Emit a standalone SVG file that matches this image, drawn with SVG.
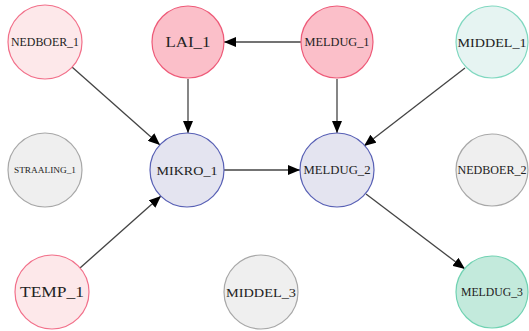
<svg xmlns="http://www.w3.org/2000/svg" width="529" height="331" viewBox="0 0 529 331">
<defs>
<marker id="ah" viewBox="0 0 12 10" refX="12" refY="5" markerWidth="12" markerHeight="10" markerUnits="userSpaceOnUse" orient="auto">
<path d="M0,0 L12,5 L0,10 Z" fill="#000"/>
</marker>
<style>
.n circle{stroke-width:1.2}
.n text{font-family:"Liberation Serif","DejaVu Serif",serif;fill:#222;text-anchor:middle;dominant-baseline:central}
.pk1 circle{fill:#fde8ea;stroke:#f2708a}
.pk2 circle{fill:#fbbfc9;stroke:#ee5a78}
.gr circle{fill:#efefef;stroke:#a8a8a8}
.bl circle{fill:#e4e4f0;stroke:#5860b5}
.tq1 circle{fill:#e6f4f2;stroke:#80d8c0}
.tq2 circle{fill:#c3eadc;stroke:#70d2b2}
#edges line{stroke:#444;stroke-width:1.3;marker-end:url(#ah)}
</style>
</defs>
<g id="edges">
<line x1="301" y1="42" x2="224" y2="42"/>
<line x1="188" y1="79" x2="188" y2="133"/>
<line x1="72" y1="67" x2="160" y2="145"/>
<line x1="337" y1="79" x2="337" y2="133"/>
<line x1="465" y1="68" x2="364" y2="146"/>
<line x1="224" y1="170" x2="300" y2="170"/>
<line x1="80" y1="268" x2="161" y2="196"/>
<line x1="366" y1="194" x2="465" y2="269"/>
</g>
<g id="NEDBOER_1" class="n pk1"><circle cx="45" cy="42" r="37"/><text x="45" y="42" font-size="11.5" textLength="68" lengthAdjust="spacingAndGlyphs">NEDBOER_1</text></g>
<g id="LAI_1" class="n pk2"><circle cx="188" cy="42" r="36"/><text x="188" y="42" font-size="14.5" textLength="45" lengthAdjust="spacingAndGlyphs">LAI_1</text></g>
<g id="MELDUG_1" class="n pk2"><circle cx="337" cy="42" r="36"/><text x="337" y="42" font-size="11.5" textLength="65" lengthAdjust="spacingAndGlyphs">MELDUG_1</text></g>
<g id="MIDDEL_1" class="n tq1"><circle cx="492" cy="42" r="36"/><text x="492" y="42" font-size="13.5" textLength="69" lengthAdjust="spacingAndGlyphs">MIDDEL_1</text></g>
<g id="STRAALING_1" class="n gr"><circle cx="45" cy="170" r="37"/><text x="45" y="170" font-size="8.4" textLength="62" lengthAdjust="spacingAndGlyphs">STRAALING_1</text></g>
<g id="MIKRO_1" class="n bl"><circle cx="187" cy="170" r="37"/><text x="187" y="170" font-size="13.5" textLength="61" lengthAdjust="spacingAndGlyphs">MIKRO_1</text></g>
<g id="MELDUG_2" class="n bl"><circle cx="337" cy="170" r="37"/><text x="337" y="170" font-size="12" textLength="67" lengthAdjust="spacingAndGlyphs">MELDUG_2</text></g>
<g id="NEDBOER_2" class="n gr"><circle cx="492" cy="170" r="36"/><text x="492" y="170" font-size="11.5" textLength="69" lengthAdjust="spacingAndGlyphs">NEDBOER_2</text></g>
<g id="TEMP_1" class="n pk1"><circle cx="52" cy="292" r="37"/><text x="52" y="292" font-size="15" textLength="64" lengthAdjust="spacingAndGlyphs">TEMP_1</text></g>
<g id="MIDDEL_3" class="n gr"><circle cx="261" cy="292" r="37"/><text x="261" y="292" font-size="13.5" textLength="70" lengthAdjust="spacingAndGlyphs">MIDDEL_3</text></g>
<g id="MELDUG_3" class="n tq2"><circle cx="492" cy="292" r="36"/><text x="492" y="292" font-size="11.5" textLength="62" lengthAdjust="spacingAndGlyphs">MELDUG_3</text></g>
</svg>
